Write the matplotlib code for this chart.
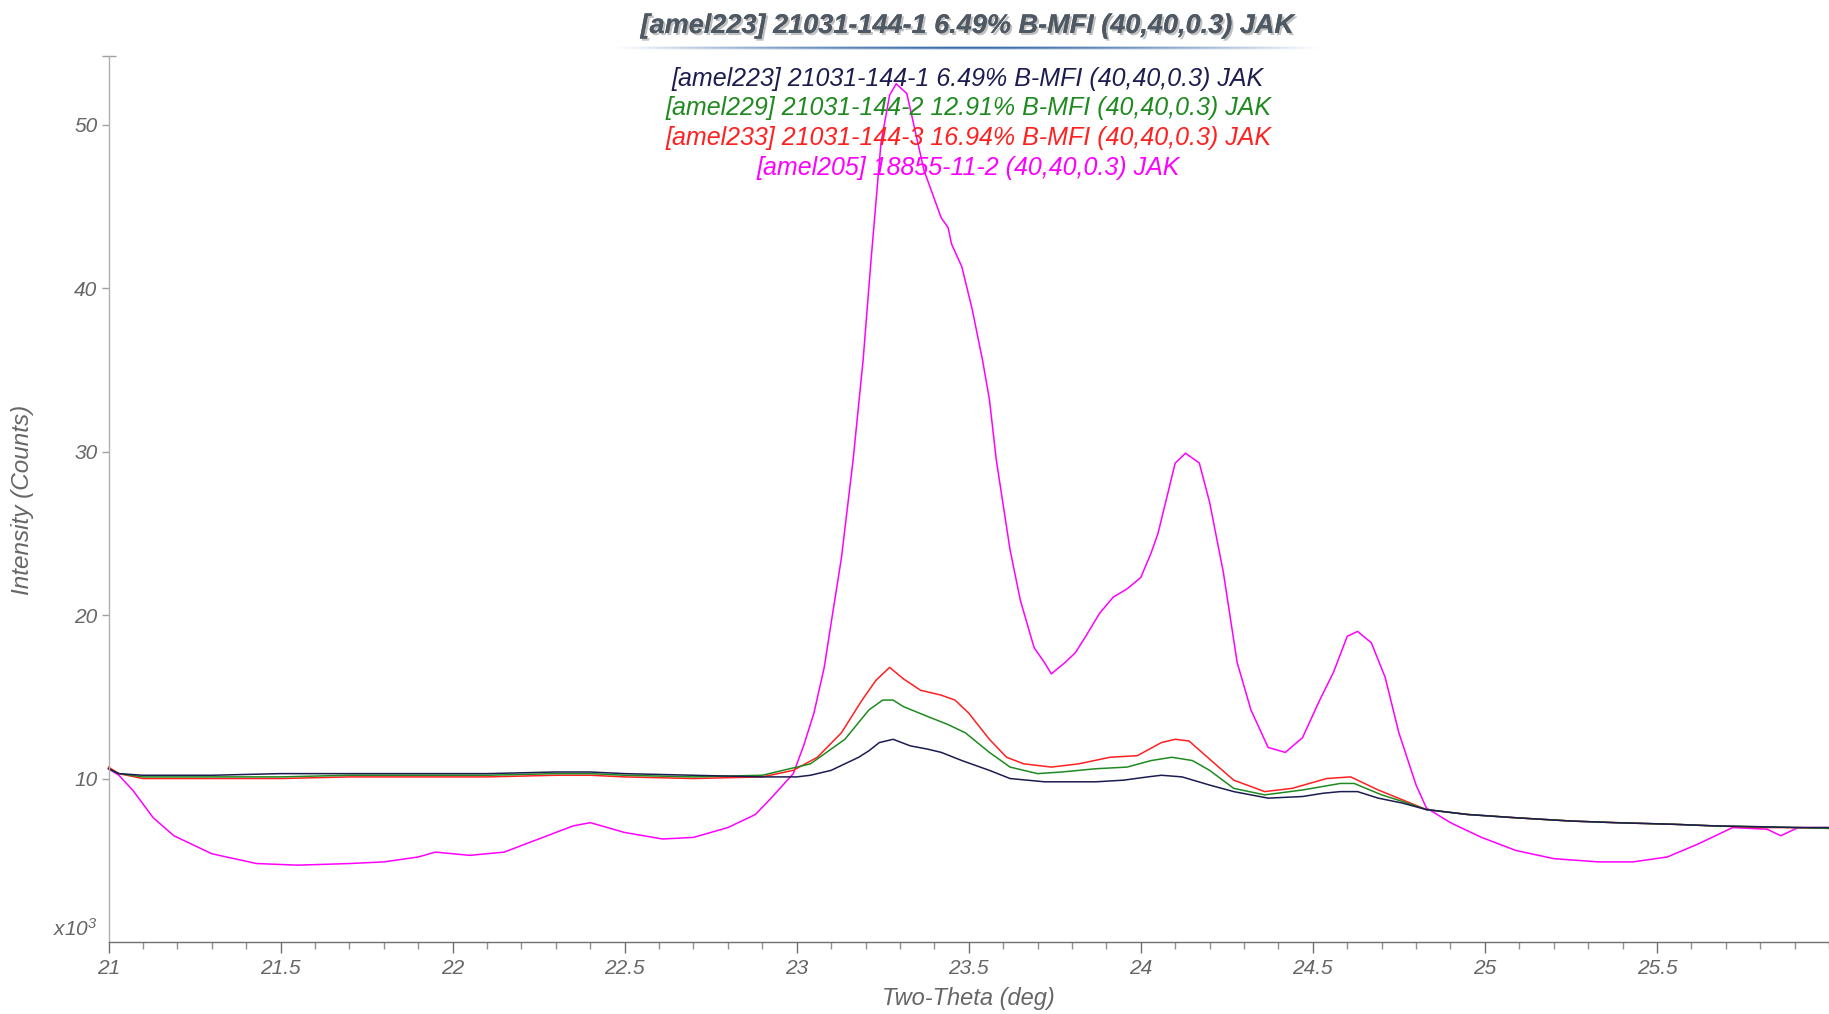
import matplotlib
matplotlib.use('Agg')
import matplotlib.pyplot as plt
import numpy as np
from matplotlib.ticker import FixedLocator, MultipleLocator, FixedFormatter
import matplotlib.patheffects as pe

plt.rcParams['font.family'] = ['Liberation Sans', 'DejaVu Sans']
plt.rcParams['mathtext.fontset'] = 'custom'
plt.rcParams['mathtext.rm'] = 'Liberation Sans:italic'
plt.rcParams['mathtext.it'] = 'Liberation Sans:italic'

# ---------------- data (Two-Theta in deg, Intensity in x10^3 counts) ----------------
title_text = "[amel223] 21031-144-1 6.49% B-MFI (40,40,0.3) JAK"
series_labels = [
    "[amel223] 21031-144-1 6.49% B-MFI (40,40,0.3) JAK",
    "[amel229] 21031-144-2 12.91% B-MFI (40,40,0.3) JAK",
    "[amel233] 21031-144-3 16.94% B-MFI (40,40,0.3) JAK",
    "[amel205] 18855-11-2 (40,40,0.3) JAK",
]
series_colors = ['#1c1c50', '#1f8a1f', '#ff2020', '#ff00ff']

x_amel223 = [21.00, 21.03, 21.10, 21.30, 21.50, 21.70, 21.90, 22.10, 22.30, 22.40, 22.50, 22.70, 22.90,
             23.00, 23.04, 23.10, 23.14, 23.18, 23.21, 23.24, 23.28, 23.33, 23.38, 23.42, 23.48, 23.52,
             23.56, 23.62, 23.67, 23.72, 23.80, 23.87, 23.95, 24.02, 24.06, 24.12, 24.20, 24.27, 24.37,
             24.47, 24.53, 24.58, 24.63, 24.69, 24.76, 24.83, 24.95, 25.09, 25.25, 25.38, 25.55, 25.67,
             25.80, 25.91, 26.00]
y_amel223 = [10.6, 10.3, 10.2, 10.2, 10.3, 10.3, 10.3, 10.3, 10.4, 10.4, 10.3, 10.2, 10.1,
             10.1, 10.2, 10.5, 10.9, 11.3, 11.7, 12.2, 12.4, 12.0, 11.8, 11.6, 11.1, 10.8,
             10.5, 10.0, 9.9, 9.8, 9.8, 9.8, 9.9, 10.1, 10.2, 10.1, 9.6, 9.2, 8.8,
             8.9, 9.1, 9.2, 9.2, 8.8, 8.5, 8.1, 7.8, 7.6, 7.4, 7.3, 7.2, 7.1,
             7.05, 7.0, 7.0]

x_amel229 = [21.00, 21.03, 21.10, 21.30, 21.50, 21.70, 21.90, 22.10, 22.30, 22.40, 22.50, 22.70, 22.90,
             23.04, 23.14, 23.21, 23.25, 23.28, 23.31, 23.38, 23.44, 23.49, 23.56, 23.62, 23.70, 23.77,
             23.87, 23.96, 24.03, 24.09, 24.15, 24.20, 24.27, 24.36, 24.47, 24.58, 24.62, 24.70, 24.76,
             24.83, 24.95, 25.09, 25.25, 25.38, 25.55, 25.67, 25.80, 25.91, 26.00]
y_amel229 = [10.6, 10.3, 10.1, 10.1, 10.1, 10.2, 10.2, 10.2, 10.3, 10.3, 10.2, 10.1, 10.2,
             10.9, 12.4, 14.2, 14.8, 14.8, 14.4, 13.8, 13.3, 12.8, 11.6, 10.7, 10.3, 10.4,
             10.6, 10.7, 11.1, 11.3, 11.1, 10.5, 9.4, 9.0, 9.3, 9.7, 9.7, 9.0, 8.6,
             8.1, 7.8, 7.6, 7.4, 7.3, 7.2, 7.1, 7.05, 7.0, 6.95]

x_amel233 = [21.00, 21.03, 21.10, 21.30, 21.50, 21.70, 21.90, 22.10, 22.30, 22.40, 22.50, 22.70, 22.90,
             22.99, 23.06, 23.13, 23.19, 23.23, 23.27, 23.31, 23.36, 23.42, 23.46, 23.50, 23.56, 23.61,
             23.66, 23.74, 23.82, 23.91, 23.99, 24.06, 24.10, 24.14, 24.21, 24.27, 24.36, 24.44, 24.54,
             24.61, 24.69, 24.76, 24.83, 24.95, 25.09, 25.25, 25.38, 25.55, 25.67, 25.80, 25.91, 26.00]
y_amel233 = [10.7, 10.3, 10.0, 10.0, 10.0, 10.1, 10.1, 10.1, 10.2, 10.2, 10.1, 10.0, 10.1,
             10.5, 11.3, 12.8, 14.8, 16.0, 16.8, 16.1, 15.4, 15.1, 14.8, 14.0, 12.4, 11.3,
             10.9, 10.7, 10.9, 11.3, 11.4, 12.2, 12.4, 12.3, 11.0, 9.9, 9.2, 9.4, 10.0,
             10.1, 9.3, 8.7, 8.1, 7.8, 7.6, 7.4, 7.3, 7.2, 7.1, 7.0, 7.0, 6.95]

x_amel205 = [21.00, 21.03, 21.07, 21.13, 21.19, 21.30, 21.43, 21.55, 21.70, 21.80, 21.90, 21.95, 22.05,
             22.15, 22.25, 22.35, 22.40, 22.50, 22.61, 22.70, 22.80, 22.88, 22.93, 22.99, 23.02, 23.05,
             23.08, 23.10, 23.13, 23.164, 23.193, 23.216, 23.245, 23.27, 23.289, 23.32, 23.37, 23.42,
             23.44, 23.45, 23.48, 23.51, 23.54, 23.56, 23.58, 23.62, 23.65, 23.69, 23.72, 23.74, 23.78,
             23.81, 23.84, 23.88, 23.92, 23.96, 24.00, 24.03, 24.05, 24.10, 24.13, 24.17, 24.20, 24.24,
             24.28, 24.32, 24.37, 24.42, 24.47, 24.52, 24.56, 24.60, 24.63, 24.67, 24.71, 24.75, 24.80,
             24.83, 24.90, 24.99, 25.09, 25.20, 25.33, 25.43, 25.53, 25.62, 25.72, 25.82, 25.86, 25.91,
             26.00]
y_amel205 = [10.6, 10.2, 9.3, 7.6, 6.5, 5.4, 4.8, 4.7, 4.8, 4.9, 5.2, 5.5, 5.3,
             5.5, 6.3, 7.1, 7.3, 6.7, 6.3, 6.4, 7.0, 7.8, 8.9, 10.3, 12.0, 14.0,
             16.8, 19.5, 23.5, 29.5, 35.6, 41.7, 48.9, 51.8, 52.5, 51.9, 47.2, 44.3,
             43.7, 42.7, 41.3, 38.7, 35.6, 33.2, 29.5, 24.0, 20.9, 18.0, 17.1, 16.4, 17.1,
             17.7, 18.7, 20.1, 21.1, 21.6, 22.3, 23.8, 25.0, 29.3, 29.9, 29.3, 26.9, 22.6,
             17.1, 14.2, 11.9, 11.6, 12.5, 14.8, 16.5, 18.7, 19.0, 18.3, 16.2, 12.8, 9.6,
             8.2, 7.3, 6.4, 5.6, 5.1, 4.9, 4.9, 5.2, 6.0, 7.0, 6.9, 6.5, 7.0,
             7.0]

x_major_ticks = [21, 21.5, 22, 22.5, 23, 23.5, 24, 24.5, 25, 25.5]
x_tick_labels = ['21', '21.5', '22', '22.5', '23', '23.5', '24', '24.5', '25', '25.5']
y_major_ticks = [10, 20, 30, 40, 50]
y_tick_labels = ['10', '20', '30', '40', '50']

# ---------------- figure ----------------
W, H = 1829, 1014
fig = plt.figure(figsize=(W / 100, H / 100), dpi=100)
fig.patch.set_facecolor('white')

left_px, right_px, top_px, bottom_px = 108.5, 1829, 56, 942
ax = fig.add_axes([left_px / W, 1 - bottom_px / H, (right_px - left_px) / W, (bottom_px - top_px) / H])
ax.set_xlim(21, 26)
ax.set_ylim(0, 54.2)

tick_gray = '#666666'
xs = [x_amel205, x_amel233, x_amel229, x_amel223]
ys = [y_amel205, y_amel233, y_amel229, y_amel223]
cols = [series_colors[3], series_colors[2], series_colors[1], series_colors[0]]
for xv, yv, c in zip(xs, ys, cols):
    ax.plot(xv, yv, color=c, lw=1.1, solid_joinstyle='round', clip_on=False)

for s in ['top', 'right']:
    ax.spines[s].set_visible(False)
ax.spines['left'].set_color('#b0b0b0')
ax.spines['bottom'].set_color('#707070')
ax.spines['left'].set_linewidth(1.0)
ax.spines['bottom'].set_linewidth(1.0)

ax.xaxis.set_major_locator(FixedLocator(x_major_ticks))
ax.xaxis.set_major_formatter(FixedFormatter(x_tick_labels))
ax.xaxis.set_minor_locator(MultipleLocator(0.1))
ax.yaxis.set_major_locator(FixedLocator(y_major_ticks))
ax.yaxis.set_major_formatter(FixedFormatter(y_tick_labels))
ax.yaxis.set_minor_locator(FixedLocator([54.2]))

ax.tick_params(axis='x', which='major', direction='out', length=8, width=1, color='#707070',
               labelsize=15, labelcolor=tick_gray, pad=4)
ax.tick_params(axis='x', which='minor', direction='out', length=5, width=1, color='#909090')
ax.tick_params(axis='y', which='major', direction='out', length=5, width=1, color='#a0a0a0',
               labelsize=15, labelcolor=tick_gray, pad=3)
ax.tick_params(axis='y', which='minor', direction='inout', length=10, width=1, color='#a0a0a0')
for lab in ax.get_xticklabels() + ax.get_yticklabels():
    lab.set_fontstyle('italic')

# x10^3 multiplier
ax.text(-0.006, 0.003, 'x10$^3$', transform=ax.transAxes, ha='right', va='bottom',
        fontsize=15, color=tick_gray, fontstyle='italic')

# axis labels
fig.text(968 / W, 1 - 999 / H, 'Two-Theta (deg)', ha='center', va='center', fontsize=17,
         fontstyle='italic', color=tick_gray)
fig.text(23 / W, 1 - 500 / H, 'Intensity (Counts)', ha='center', va='center', rotation=90,
         fontsize=17.5, fontstyle='italic', color=tick_gray)

# title with shadow
fig.text(968 / W, 1 - 26 / H, title_text, ha='center', va='center', fontsize=19.5,
         fontweight='bold', fontstyle='italic', color='#4e5964',
         path_effects=[pe.withSimplePatchShadow(offset=(1.5, -1.5), shadow_rgbFace='#777777', alpha=0.45),
                       pe.Normal()])

# gradient underline
gx0, gx1, gy, gh = 615, 1320, 48, 4
gax = fig.add_axes([gx0 / W, 1 - (gy + gh / 2) / H, (gx1 - gx0) / W, gh / H])
t = np.linspace(-1, 1, 600)
alpha = np.clip(1 - np.abs(t) ** 1.6, 0, 1)
rgba = np.zeros((4, 600, 4))
rgba[..., 0] = 0x3a / 255
rgba[..., 1] = 0x6c / 255
rgba[..., 2] = 0xa8 / 255
rows = np.array([0.35, 1.0, 0.8, 0.25])[:, None]
rgba[..., 3] = alpha[None, :] * rows
gax.imshow(rgba, aspect='auto', interpolation='bilinear')
gax.set_axis_off()

# legend (centered text lines)
legend_y_px = [79, 108, 138, 168]
for lab, c, ypx in zip(series_labels, series_colors, legend_y_px):
    fig.text(968 / W, 1 - ypx / H, lab, ha='center', va='center', fontsize=18,
             fontstyle='italic', color=c)

fig.savefig('out.png', dpi=100, facecolor='white')
